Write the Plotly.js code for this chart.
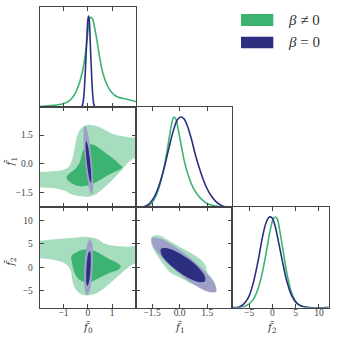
<!DOCTYPE html>
<html>
<head>
<meta charset="utf-8">
<script src="https://cdn.plot.ly/plotly-3.0.1.min.js"></script>
<style>
  html, body { margin: 0; padding: 0; background: #fff; }
  #corner { width: 338px; height: 338px; }
</style>
</head>
<body>
<div id="corner"></div>
<script>
// 1D marginals (peak normalised to ~1)
var f0GreenX = [-2.0, -1.56, -1.01, -0.73, -0.52, -0.35, -0.21, -0.10, -0.02, 0.04, 0.10, 0.18, 0.27, 0.37, 0.48, 0.62, 0.79, 0.99, 1.20, 1.61, 2.0];
var f0GreenY = [0.01, 0.02, 0.04, 0.08, 0.155, 0.265, 0.41, 0.59, 0.775, 0.92, 0.987, 0.976, 0.884, 0.739, 0.556, 0.374, 0.246, 0.162, 0.118, 0.09, 0.063];
var f0BlueX = [-0.32, -0.25, -0.2, -0.15, -0.1, -0.05, 0, 0.03, 0.06, 0.1, 0.15, 0.2, 0.25, 0.3, 0.36];
var f0BlueY = [0, 0.01, 0.05, 0.18, 0.42, 0.72, 0.96, 1.0, 0.95, 0.7, 0.38, 0.14, 0.03, 0.005, 0];

var f1GreenX = [-2.3, -1.77, -1.5, -1.22, -0.95, -0.73, -0.55, -0.42, -0.31, -0.2, -0.08, 0.09, 0.27, 0.51, 0.78, 1.15, 1.51, 1.97, 2.42, 2.84];
var f1GreenY = [0, 0.01, 0.053, 0.163, 0.347, 0.567, 0.787, 0.933, 0.995, 0.97, 0.86, 0.677, 0.493, 0.328, 0.2, 0.097, 0.042, 0.016, 0.002, 0];
var f1BlueX = [-2.37, -2.04, -1.68, -1.4, -1.13, -0.86, -0.58, -0.35, -0.13, 0.05, 0.23, 0.42, 0.64, 0.87, 1.15, 1.42, 1.69, 1.97, 2.24, 2.51, 2.84];
var f1BlueY = [0, 0.005, 0.035, 0.108, 0.237, 0.42, 0.658, 0.84, 0.962, 0.995, 0.977, 0.897, 0.75, 0.567, 0.383, 0.237, 0.134, 0.064, 0.024, 0.005, 0];

var f2GreenX = [-8.67, -6.58, -5.16, -4.09, -3.0, -1.94, -1.08, -0.35, 0.22, 0.65, 1.08, 1.66, 2.37, 3.23, 4.17, 5.24, 6.32, 8.1, 12.1];
var f2GreenY = [0, 0.002, 0.035, 0.09, 0.218, 0.438, 0.677, 0.878, 0.977, 0.995, 0.97, 0.823, 0.603, 0.347, 0.156, 0.053, 0.015, 0, 0];
var f2BlueX = [-8.67, -7.3, -6.24, -5.16, -4.09, -3.0, -2.15, -1.35, -0.64, -0.06, 0.58, 1.29, 2.15, 3.1, 4.17, 5.24, 6.32, 7.75, 12.1];
var f2BlueY = [0, 0.003, 0.035, 0.108, 0.273, 0.53, 0.768, 0.933, 0.995, 0.985, 0.897, 0.73, 0.51, 0.29, 0.127, 0.046, 0.015, 0, 0];

// 2D credible regions, outlines
// (f0, f1)
var g95_01x = [-2.12, -1.50, -1.02, -0.79, -0.68, -0.59, -0.51, -0.43, -0.32, -0.15, 0.04, 0.26, 0.49, 0.77, 1.05, 1.39, 1.73, 2.15, 2.15, 1.87, 1.64, 1.39, 1.11, 0.84, 0.56, 0.29, 0.01, -0.33, -0.68, -0.95, -1.30, -1.71, -2.12];
var g95_01y = [-0.44, -0.39, -0.32, -0.17, 0.09, 0.53, 1.06, 1.50, 1.80, 1.98, 2.05, 2.01, 1.91, 1.73, 1.55, 1.45, 1.38, 1.33, 0.35, 0.27, 0.04, -0.35, -0.70, -1.06, -1.37, -1.62, -1.73, -1.69, -1.59, -1.41, -1.30, -1.25, -1.23];
var g68_01x = [-0.88, -0.75, -0.51, -0.33, -0.24, -0.13, 0.04, 0.26, 0.49, 0.77, 1.05, 1.28, 1.42, 1.28, 0.98, 0.63, 0.29, 0.01, -0.33, -0.61, -0.81, -0.88];
var g68_01y = [-0.70, -0.49, -0.26, 0.09, 0.53, 0.88, 1.02, 0.99, 0.80, 0.53, 0.27, 0.0, -0.18, -0.32, -0.49, -0.74, -0.99, -1.13, -1.18, -1.06, -0.88, -0.70];
var b95_01x = [-0.12, -0.03, 0.07, 0.16, 0.21, 0.21, 0.16, 0.07, -0.03, -0.12, -0.17, -0.17, -0.12];
var b95_01y = [2.0, 1.76, 1.1, 0.2, -0.7, -1.36, -1.6, -1.36, -0.7, 0.2, 1.1, 1.76, 2.0];
var b68_01x = [-0.07, -0.02, 0.04, 0.095, 0.13, 0.14, 0.12, 0.07, 0.01, -0.045, -0.08, -0.09, -0.07];
var b68_01y = [1.2, 1.05, 0.65, 0.1, -0.45, -0.85, -1.0, -0.85, -0.45, 0.1, 0.65, 1.05, 1.2];

// (f0, f2)
var g95_02x = [-2.12, -1.50, -0.95, -0.54, -0.19, 0.15, 0.43, 0.63, 0.91, 1.25, 1.67, 2.15, 2.15, 1.80, 1.55, 1.32, 1.05, 0.77, 0.49, 0.22, -0.06, -0.33, -0.54, -0.64, -0.70, -0.88, -1.23, -1.64, -2.12];
var g95_02y = [5.6, 5.94, 6.15, 6.29, 6.5, 6.36, 5.94, 5.2, 4.7, 4.5, 4.4, 4.3, 1.2, 0.5, -0.5, -1.49, -2.70, -3.97, -5.03, -5.74, -5.95, -5.53, -4.32, -2.70, -0.79, 0.63, 1.4, 1.8, 1.95];
var g68_02x = [-0.68, -0.51, -0.26, 0.01, 0.29, 0.56, 0.91, 1.25, 1.36, 1.23, 0.91, 0.56, 0.29, 0.01, -0.26, -0.43, -0.57, -0.65, -0.68];
var g68_02y = [2.4, 3.1, 3.7, 3.8, 3.5, 2.75, 1.69, 0.84, 0.13, -0.57, -1.14, -1.99, -2.7, -3.2, -2.9, -2.2, -0.79, 0.98, 2.4];
var b95_02x = [0.09, 0.17, 0.21, 0.2, 0.15, 0.06, -0.03, -0.11, -0.15, -0.14, -0.09, 0.0, 0.09];
var b95_02y = [6.1, 5.3, 3.1, 0.1, -2.9, -5.1, -5.9, -5.1, -2.9, 0.1, 3.1, 5.3, 6.1];
var b68_02x = [0.07, 0.11, 0.12, 0.11, 0.08, 0.03, -0.02, -0.06, -0.07, -0.06, -0.03, 0.02, 0.07];
var b68_02y = [3.5, 3.0, 1.65, -0.2, -2.05, -3.4, -3.9, -3.4, -2.05, -0.2, 1.65, 3.0, 3.5];

// (f1, f2)
var g95_12x = [-1.50, -1.13, -0.68, -0.13, 0.42, 0.87, 1.23, 1.42, 1.51, 1.73, 1.91, 1.87, 1.60, 1.15, 0.60, 0.05, -0.49, -0.95, -1.31, -1.55, -1.50];
var g95_12y = [6.5, 6.79, 5.94, 4.67, 3.46, 2.4, 1.34, 0.28, -1.15, -2.21, -3.4, -4.33, -4.54, -4.18, -3.4, -2.21, -1.15, 0.98, 3.1, 5.22, 6.5];
var b95_12x = [1.98, 1.58, 0.82, -0.10, -0.93, -1.45, -1.52, -1.12, -0.36, 0.56, 1.40, 1.92, 1.98];
var b95_12y = [-5.18, -5.2, -3.72, -1.08, 1.95, 4.61, 6.16, 6.18, 4.67, 2.06, -0.98, -3.63, -5.18];
var b68_12x = [1.38, 1.09, 0.56, -0.08, -0.64, -0.99, -1.02, -0.74, -0.20, 0.44, 1.01, 1.35, 1.38];
var b68_12y = [-2.89, -3.13, -2.4, -0.89, 1.0, 2.74, 3.89, 4.12, 3.38, 1.87, -0.02, -1.77, -2.89];

// ticks
var f0Ticks = [-1, 0, 1];
var f0TickText = ['\u22121', '0', '1'];
var f1Ticks = [-1.5, 0, 1.5];
var f1TickText = ['\u22121.5', '0.0', '1.5'];
var f2Ticks = [-5, 0, 5, 10];
var f2TickText = ['\u22125', '0', '5', '10'];

var green = '#3cb371';
var greenLight = '#a7ddbf';
var navy = '#2c2f80';
var navyLight = '#9fa0c8';
var lineCol = '#444444';
var serif = 'Liberation Serif, DejaVu Serif, serif';

function curve(x, y, col, xa, ya) {
    return {x: x, y: y, xaxis: xa, yaxis: ya, type: 'scatter', mode: 'lines',
        line: {color: col, width: 1.6, shape: 'spline', smoothing: 1}, hoverinfo: 'skip'};
}
function region(x, y, col, xa, ya) {
    return {x: x, y: y, xaxis: xa, yaxis: ya, type: 'scatter', mode: 'lines',
        fill: 'toself', fillcolor: col, line: {width: 0, color: col, shape: 'spline', smoothing: 1},
        hoverinfo: 'skip'};
}

var traces = [
    curve(f0GreenX, f0GreenY, green, 'x', 'y'),
    curve(f0BlueX, f0BlueY, navy, 'x', 'y'),
    region(g95_01x, g95_01y, greenLight, 'x2', 'y2'),
    region(g68_01x, g68_01y, green, 'x2', 'y2'),
    region(b95_01x, b95_01y, navyLight, 'x2', 'y2'),
    region(b68_01x, b68_01y, navy, 'x2', 'y2'),
    region(g95_02x, g95_02y, greenLight, 'x3', 'y3'),
    region(g68_02x, g68_02y, green, 'x3', 'y3'),
    region(b95_02x, b95_02y, navyLight, 'x3', 'y3'),
    region(b68_02x, b68_02y, navy, 'x3', 'y3'),
    curve(f1GreenX, f1GreenY, green, 'x4', 'y4'),
    curve(f1BlueX, f1BlueY, navy, 'x4', 'y4'),
    region(g95_12x, g95_12y, greenLight, 'x5', 'y5'),
    region(b95_12x, b95_12y, navyLight, 'x5', 'y5'),
    region(b68_12x, b68_12y, navy, 'x5', 'y5'),
    curve(f2GreenX, f2GreenY, green, 'x6', 'y6'),
    curve(f2BlueX, f2BlueY, navy, 'x6', 'y6')
];

var col0 = [0.1175, 0.4024], col1 = [0.4024, 0.6864], col2 = [0.6864, 0.9725];
var row0 = [0.682, 0.9793], row1 = [0.3861, 0.682], row2 = [0.0902, 0.3861];
var r0 = [-1.98, 1.98], r1x = [-2.37, 2.84], r1y = [-2.29, 2.95], r2x = [-8.67, 12.1], r2y = [-8.5, 12.7];

function axis(domain, range, anchor, vals, text, labels, standoff) {
    return {
        domain: domain, range: range, anchor: anchor,
        showgrid: false, zeroline: false,
        showline: true, linecolor: lineCol, linewidth: 1, mirror: 'allticks',
        ticks: 'inside', ticklen: 4, tickwidth: 1, tickcolor: lineCol,
        tickvals: vals, ticktext: text, showticklabels: labels,
        ticklabelstandoff: standoff,
        tickfont: {family: serif, size: 9.5, color: '#444'}
    };
}
function diagY(domain, anchor) {
    return {domain: domain, range: [0, 1.1], anchor: anchor, showgrid: false, zeroline: false,
        showline: true, linecolor: lineCol, linewidth: 1, mirror: true, ticks: '', showticklabels: false};
}

function title(txt, x, y, angle) {
    return {xref: 'paper', yref: 'paper', x: x, y: y, xanchor: 'center', yanchor: 'middle',
        textangle: angle, showarrow: false, text: txt,
        font: {family: 'DejaVu Serif, serif', size: 10.5, color: '#333'}};
}

var layout = {
    width: 338, height: 338,
    margin: {l: 0, r: 0, t: 0, b: 0},
    paper_bgcolor: '#fff', plot_bgcolor: '#fff',
    showlegend: false,
    xaxis: axis(col0, r0, 'y', f0Ticks, f0TickText, false, 0),
    yaxis: diagY(row0, 'x'),
    xaxis2: axis(col0, r0, 'y2', f0Ticks, f0TickText, false, 0),
    yaxis2: axis(row1, r1y, 'x2', f1Ticks, f1TickText, true, 4),
    xaxis3: axis(col0, r0, 'y3', f0Ticks, f0TickText, true, -4),
    yaxis3: axis(row2, r2y, 'x3', f2Ticks, f2TickText, true, 4),
    xaxis4: axis(col1, r1x, 'y4', f1Ticks, f1TickText, false, 0),
    yaxis4: diagY(row1, 'x4'),
    xaxis5: axis(col1, r1x, 'y5', f1Ticks, f1TickText, true, -4),
    yaxis5: axis(row2, r2y, 'x5', f2Ticks, f2TickText, false, 0),
    xaxis6: axis(col2, r2x, 'y6', f2Ticks, f2TickText, true, -4),
    yaxis6: diagY(row2, 'x6'),
    shapes: [
        {type: 'rect', xref: 'paper', yref: 'paper', x0: 0.713, x1: 0.8086, y0: 0.9231, y1: 0.9586,
            fillcolor: green, line: {width: 0}},
        {type: 'rect', xref: 'paper', yref: 'paper', x0: 0.713, x1: 0.8086, y0: 0.8571, y1: 0.8914,
            fillcolor: navy, line: {width: 0}}
    ],
    annotations: [
        {xref: 'paper', yref: 'paper', x: 0.845, y: 0.9408, xanchor: 'left', yanchor: 'middle', showarrow: false,
            text: '<i>\u03b2</i> \u2260 0', font: {family: serif, size: 15, color: '#333'}},
        {xref: 'paper', yref: 'paper', x: 0.845, y: 0.8743, xanchor: 'left', yanchor: 'middle', showarrow: false,
            text: '<i>\u03b2</i> = 0', font: {family: serif, size: 15, color: '#333'}},
        title('<i>f\u0303</i><sub>0</sub>', 0.2595, 0.03, 0),
        title('<i>f\u0303</i><sub>1</sub>', 0.5317, 0.03, 0),
        title('<i>f\u0303</i><sub>2</sub>', 0.8056, 0.03, 0),
        title('<i>f\u0303</i><sub>1</sub>', 0.032, 0.5216, -90),
        title('<i>f\u0303</i><sub>2</sub>', 0.032, 0.225, -90)
    ]
};

Plotly.newPlot('corner', traces, layout, {staticPlot: true, displayModeBar: false});
</script>
</body>
</html>
